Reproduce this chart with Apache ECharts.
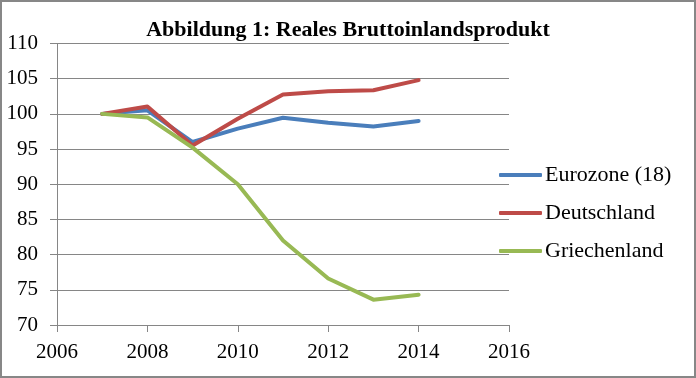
<!DOCTYPE html>
<html>
<head>
<meta charset="utf-8">
<script src="https://cdn.jsdelivr.net/npm/echarts@6/dist/echarts.min.js"></script>
<style>
html,body{margin:0;padding:0;background:#fff;}
#chart{width:696px;height:378px;}
</style>
</head>
<body>
<div id="chart"></div>
<script>
var titleText = 'Abbildung 1: Reales Bruttoinlandsprodukt';
var years = [2007, 2008, 2009, 2010, 2011, 2012, 2013, 2014];
var seriesNames = ['Eurozone (18)', 'Deutschland', 'Griechenland'];
var eurozone = [100, 100.5, 96.0, 97.9, 99.45, 98.75, 98.2, 99.0];
var deutschland = [100, 101.05, 95.5, 99.3, 102.75, 103.2, 103.35, 104.8];
var griechenland = [100, 99.5, 95.2, 90.0, 82.0, 76.6, 73.6, 74.3];
var colors = ['#4A7EBB', '#BE4B48', '#98B954'];

var FONT = '"Liberation Serif", serif';
function pairs(vals){ return years.map(function(y,i){ return [y, vals[i]]; }); }
var allVals = [eurozone, deutschland, griechenland];

var chart = echarts.init(document.getElementById('chart'), null, {renderer:'canvas'});
chart.setOption({
  animation: false,
  backgroundColor: '#fff',
  color: colors,
  title: {
    text: titleText,
    left: 'center',
    top: 19,
    padding: 0,
    textStyle: {fontFamily: FONT, fontSize: 22, fontWeight: 'bold', color: '#000', lineHeight: 22}
  },
  legend: {
    orient: 'vertical',
    left: 499,
    top: 164,
    padding: 0,
    itemWidth: 43,
    itemHeight: 4,
    itemGap: 16,
    icon: 'roundRect',
    data: seriesNames,
    textStyle: {fontFamily: FONT, fontSize: 22, color: '#000', lineHeight: 20, padding: [0,0,0,-2]}
  },
  grid: {left: 57, right: 187, top: 43.5, bottom: 53},
  xAxis: {
    type: 'value', min: 2006, max: 2016, interval: 2,
    axisLine: {lineStyle: {color: '#868686', width: 1}},
    axisTick: {show: true, inside: false, length: 7, lineStyle: {color: '#868686'}},
    splitLine: {show: false},
    axisLabel: {fontFamily: FONT, fontSize: 21, color: '#000', margin: 17, formatter: function(v){ return String(v); }}
  },
  yAxis: {
    type: 'value', min: 70, max: 110, interval: 5,
    axisLine: {show: true, lineStyle: {color: '#868686', width: 1}},
    axisTick: {show: true, inside: false, length: 7, lineStyle: {color: '#868686'}},
    splitLine: {show: true, lineStyle: {color: '#868686', width: 1}},
    axisLabel: {fontFamily: FONT, fontSize: 21, color: '#000', margin: 19}
  },
  graphic: [{
    type: 'rect', silent: true, z: 100,
    shape: {x: 1, y: 1, width: 694, height: 376},
    style: {fill: 'none', stroke: '#878787', lineWidth: 2}
  }],
  series: seriesNames.map(function(n, i){
    return {
      name: n, type: 'line', data: pairs(allVals[i]),
      symbol: 'none', smooth: false,
      lineStyle: {width: 4, color: colors[i], cap: 'round', join: 'round'},
      itemStyle: {color: colors[i]}
    };
  })
});
</script>
</body>
</html>
